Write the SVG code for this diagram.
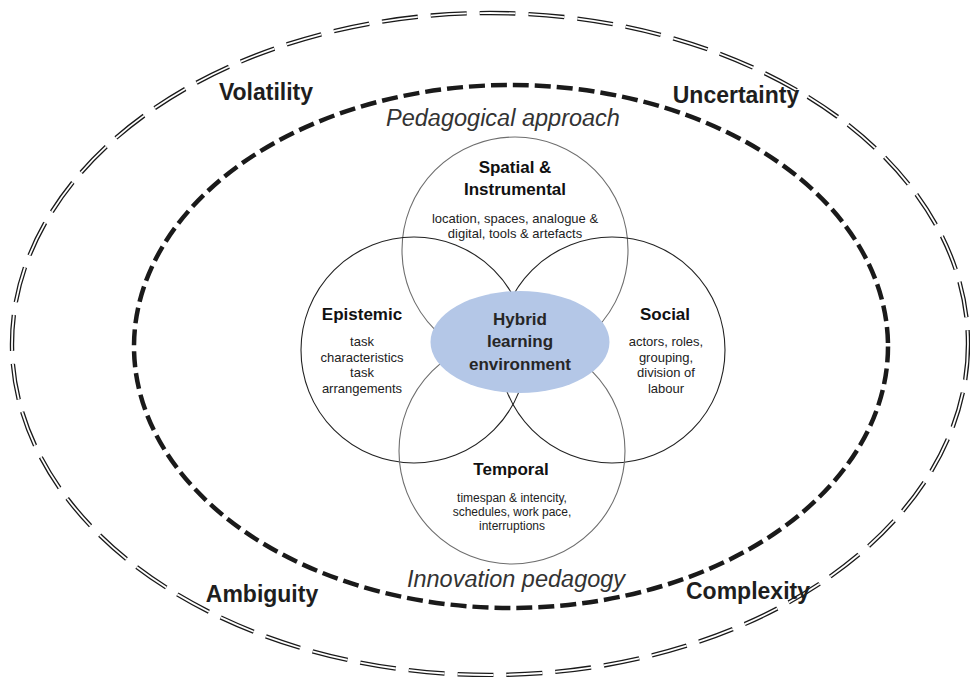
<svg xmlns="http://www.w3.org/2000/svg" width="970" height="677" viewBox="0 0 970 677">
<defs>
<style>
.outerB{fill:none;stroke:#1a1a1a;stroke-width:4.4;stroke-dasharray:36 13}
.outerW{fill:none;stroke:#fff;stroke-width:1.8;stroke-dasharray:36 13}
.inner{fill:none;stroke:#1a1a1a;stroke-width:4.5;stroke-dasharray:16 6}
.cDark{fill:none;stroke:#222;stroke-width:1.1}
.cGray{fill:none;stroke:#6e6e6e;stroke-width:1.1}
.big{font-family:"Liberation Sans",Arial,sans-serif;font-weight:bold;font-size:23px;fill:#1e1e1e;text-anchor:middle}
.ital{font-family:"Liberation Sans",Arial,sans-serif;font-style:italic;font-size:23.5px;fill:#333;text-anchor:middle}
.title{font-family:"Liberation Sans",Arial,sans-serif;font-weight:bold;font-size:17px;fill:#111;text-anchor:middle}
.small{font-family:"Liberation Sans",Arial,sans-serif;font-size:13px;fill:#222;text-anchor:middle}
.smallT{font-family:"Liberation Sans",Arial,sans-serif;font-size:12px;fill:#222;text-anchor:middle}
.hub{font-family:"Liberation Sans",Arial,sans-serif;font-weight:bold;font-size:17px;fill:#262626;text-anchor:middle}
</style>
</defs>
<rect width="970" height="677" fill="#fff"/>
<g id="vuca-ellipse">
<ellipse class="outerB" cx="490" cy="344" rx="478" ry="331"/>
<ellipse class="outerW" cx="490" cy="344" rx="478" ry="331"/>
</g>
<g id="pedagogy-ellipse">
<ellipse class="inner" cx="511" cy="346.5" rx="377" ry="261.5"/>
</g>
<g id="spatial">
<circle class="cGray" cx="515" cy="250" r="113"/>
<text class="title" x="515" y="173">Spatial &amp;</text>
<text class="title" x="515" y="195">Instrumental</text>
<text class="small" x="515" y="223">location, spaces, analogue &amp;</text>
<text class="small" x="515" y="238">digital, tools &amp; artefacts</text>
</g>
<g id="epistemic">
<circle class="cDark" cx="414" cy="350" r="113"/>
<text class="title" x="362" y="320">Epistemic</text>
<text class="small" x="362" y="346">task</text>
<text class="small" x="362" y="362">characteristics</text>
<text class="small" x="362" y="377">task</text>
<text class="small" x="362" y="393">arrangements</text>
</g>
<g id="social">
<circle class="cDark" cx="612" cy="350" r="113"/>
<text class="title" x="665" y="320">Social</text>
<text class="small" x="666" y="346">actors, roles,</text>
<text class="small" x="666" y="362">grouping,</text>
<text class="small" x="666" y="377">division of</text>
<text class="small" x="666" y="393">labour</text>
</g>
<g id="temporal">
<circle class="cGray" cx="512" cy="451" r="113"/>
<text class="title" x="511" y="475">Temporal</text>
<text class="smallT" x="512" y="502">timespan &amp; intencity,</text>
<text class="smallT" x="512" y="516">schedules, work pace,</text>
<text class="smallT" x="512" y="530">interruptions</text>
</g>
<g id="hybrid">
<ellipse cx="520" cy="342" rx="89.5" ry="51" fill="#b4c7e7"/>
<text class="hub" x="520" y="325">Hybrid</text>
<text class="hub" x="520" y="347">learning</text>
<text class="hub" x="520" y="370">environment</text>
</g>
<g id="labels">
<text class="big" x="266" y="100">Volatility</text>
<text class="big" x="736" y="103">Uncertainty</text>
<text class="big" x="262" y="602">Ambiguity</text>
<text class="big" x="748" y="599">Complexity</text>
<text class="ital" x="503" y="126">Pedagogical approach</text>
<text class="ital" x="516" y="587">Innovation pedagogy</text>
</g>
<g id="connectors"></g>
</svg>
